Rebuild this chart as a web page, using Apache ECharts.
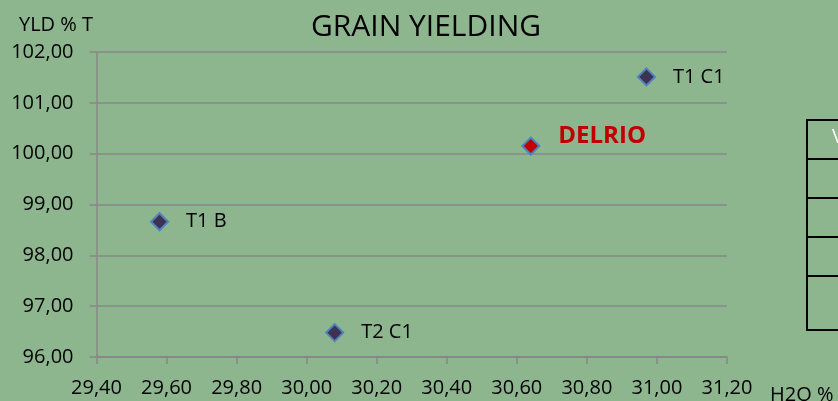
<!DOCTYPE html>
<html>
<head>
<meta charset="utf-8">
<title>GRAIN YIELDING</title>
<script src="https://cdn.jsdelivr.net/npm/echarts@6.0.0/dist/echarts.min.js"></script>
<style>
    html, body { margin: 0; padding: 0; background: #8db68e; }
    #chart { width: 838px; height: 401px; }
</style>
</head>
<body>
<div id="chart"></div>
<script>
// values
const pointNames = ['T1 B', 'T2 C1', 'DELRIO', 'T1 C1'];
const h2oValues = [29.58, 30.08, 30.64, 30.97];
const yldValues = [98.66, 96.48, 100.15, 101.51];
const highlightName = 'DELRIO';

const fmt = (v) => v.toFixed(2).replace('.', ',');
const gridColor = '#878787';
const font = '"Open Sans", Lato, sans-serif';

const points = pointNames.map((name, i) => {
    let item = { name, value: [h2oValues[i], yldValues[i]] };
    if (name === highlightName) {
        item.itemStyle = { color: '#c00000' };
        item.label = {
            color: '#c00000',
            fontWeight: 'bold',
            fontSize: 24,
            distance: 18,
            offset: [0, -10]
        };
    }
    return item;
});

const chart = echarts.init(document.getElementById('chart'));
chart.setOption({
    backgroundColor: '#8db68e',
    animation: false,
    title: {
        text: 'GRAIN YIELDING',
        left: 421,
        top: 7,
        textAlign: 'center',
        textStyle: { fontFamily: font, fontSize: 30, fontWeight: 'normal', color: '#000' }
    },
    grid: { left: 96.5, right: 111, top: 52, bottom: 44, containLabel: false },
    xAxis: {
        type: 'value',
        min: 29.4,
        max: 31.2,
        interval: 0.2,
        axisLine: { show: true, lineStyle: { color: gridColor, width: 1.5 } },
        axisTick: { show: true, length: 7, lineStyle: { color: gridColor, width: 1.5 } },
        splitLine: { show: false },
        axisLabel: {
            margin: 21,
            fontFamily: font,
            fontSize: 20,
            color: '#000',
            formatter: fmt
        }
    },
    yAxis: {
        type: 'value',
        min: 96,
        max: 102,
        interval: 1,
        axisLine: { show: true, lineStyle: { color: gridColor, width: 1.5 } },
        axisTick: { show: true, length: 7, lineStyle: { color: gridColor, width: 1.5 } },
        splitLine: { show: true, lineStyle: { color: gridColor, width: 1.5 } },
        axisLabel: {
            margin: 23,
            fontFamily: font,
            fontSize: 20,
            color: '#000',
            formatter: fmt
        }
    },
    graphic: [
        { type: 'text', left: 19, top: 15, style: { text: 'YLD % T', font: '20px ' + font, fill: '#000' } },
        { type: 'text', left: 770, top: 385, style: { text: 'H2O %', font: '20px ' + font, fill: '#000' } },
        // partial table at the right edge
        { type: 'rect', shape: { x: 807, y: 120, width: 60, height: 210 }, style: { fill: 'none', stroke: '#000', lineWidth: 2 } },
        { type: 'line', shape: { x1: 807, y1: 159, x2: 838, y2: 159 }, style: { stroke: '#000', lineWidth: 2 } },
        { type: 'line', shape: { x1: 807, y1: 198, x2: 838, y2: 198 }, style: { stroke: '#000', lineWidth: 2 } },
        { type: 'line', shape: { x1: 807, y1: 237, x2: 838, y2: 237 }, style: { stroke: '#000', lineWidth: 2 } },
        { type: 'line', shape: { x1: 807, y1: 276, x2: 838, y2: 276 }, style: { stroke: '#000', lineWidth: 2 } },
        { type: 'text', left: 832, top: 127, style: { text: 'V', font: '20px ' + font, fill: '#ffffff' } }
    ],
    series: [{
        type: 'scatter',
        symbol: 'diamond',
        symbolSize: 17,
        itemStyle: { color: '#3f3151', borderColor: '#4f81bd', borderWidth: 2, opacity: 1 },
        label: {
            show: true,
            position: 'right',
            distance: 17,
            formatter: '{b}',
            fontFamily: font,
            fontSize: 20,
            color: '#000'
        },
        data: points
    }]
});
</script>
</body>
</html>
